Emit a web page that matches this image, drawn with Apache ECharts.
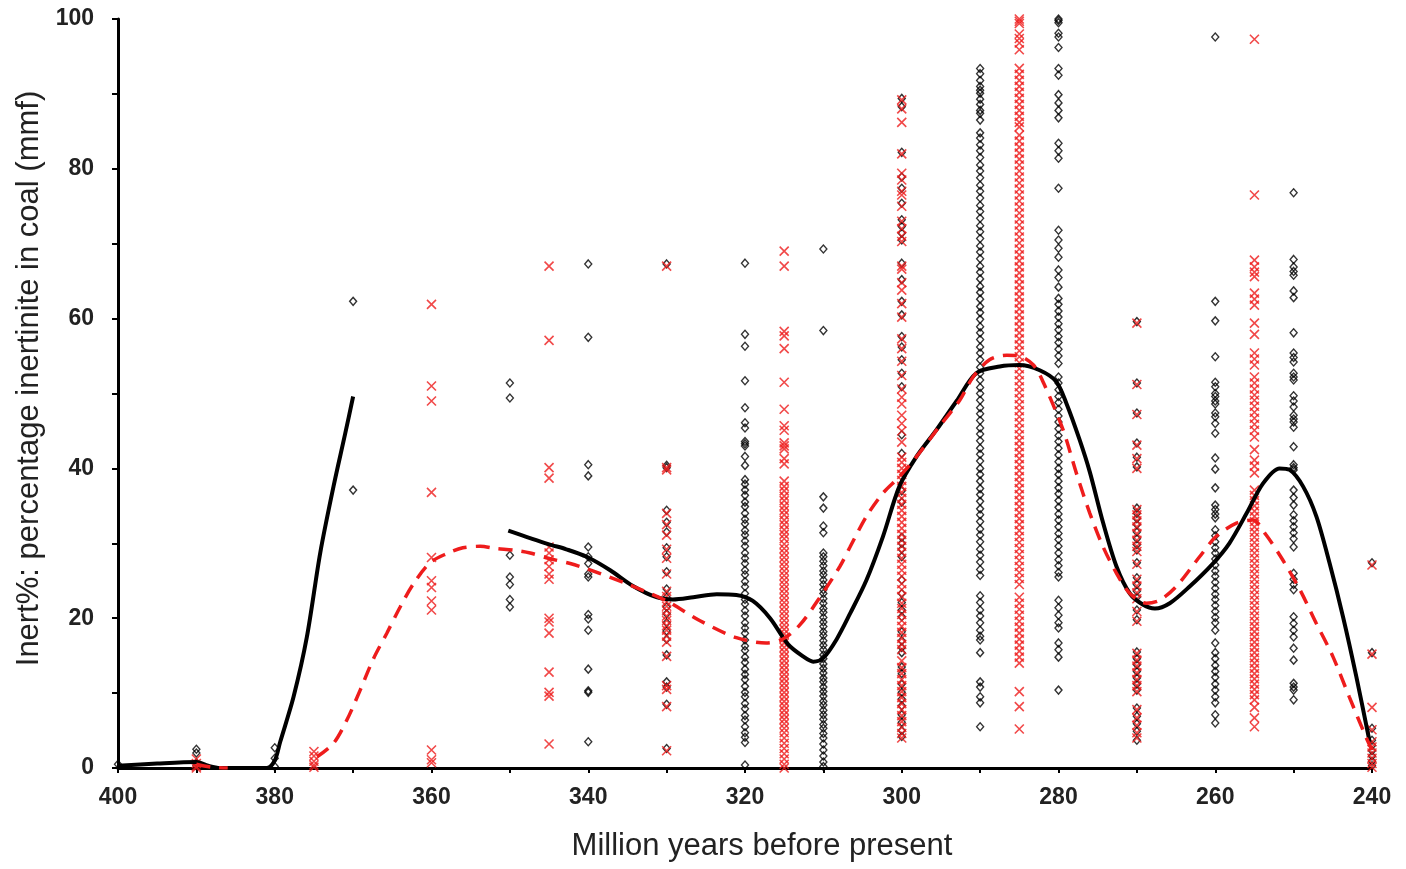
<!DOCTYPE html>
<html>
<head>
<meta charset="utf-8">
<script src="https://cdn.jsdelivr.net/npm/echarts@6/dist/echarts.min.js"></script>
<style>
  html, body { margin: 0; padding: 0; background: #fff; }
  #chart { width: 1406px; height: 869px; }
</style>
</head>
<body>
<div id="chart"></div>
<script>
// black diamonds, one array per age column (Ma)
const blackCols = {
  400: [0.5],
  390: [2.5, 2.0, 0.7, 0.3],
  380: [2.7, 1.3, 0.2],
  370: [62.3, 37.1],
  350: [51.4, 49.4, 28.4, 25.5, 24.5, 22.5, 21.5],
  340: [67.3, 57.5, 40.5, 39.0, 29.5, 28.2, 27.3, 25.9, 25.5, 20.5, 19.9, 18.4, 13.2, 10.3, 10.1, 3.5],
  330: [67.3, 40.4, 40.1, 34.4, 32.8, 31.5, 29.4, 28.2, 26.2, 23.9, 22.8, 21.5, 20.6, 19.4, 18.3, 17.2, 15.1, 11.5, 10.8, 8.5, 2.6],
  320: [67.4, 57.9, 56.3, 51.7, 48.1, 46.1, 45.4, 43.6, 43.3, 43.0, 41.6, 40.4, 38.5, 37.9, 37.1, 36.4, 35.5, 34.9, 34.0, 33.2,
        32.6, 31.7, 31.1, 30.3, 29.6, 28.7, 28.0, 27.3, 26.4, 25.8, 24.9, 24.2, 23.3, 22.5, 21.9, 21.0, 20.3, 19.4, 18.7, 18.0,
        17.1, 16.3, 15.7, 14.8, 14.1, 13.2, 12.5, 11.8, 10.9, 10.1, 9.5, 8.6, 7.9, 7.0, 6.4, 5.5, 4.7, 4.1, 3.4, 0.4],
  310: [69.3, 58.4, 36.2, 34.7, 32.3, 31.4, 28.7, 28.2, 27.6, 27.0, 26.3, 25.8, 25.1, 24.5, 23.8, 23.3, 22.6, 22.0, 21.3,
        20.8, 20.1, 19.5, 18.9, 18.2, 17.7, 17.0, 16.4, 15.8, 15.1, 14.6, 13.9, 13.3, 12.7, 12.0, 11.5, 10.8, 10.2, 9.6, 8.9,
        8.4, 7.7, 7.1, 6.5, 5.8, 5.3, 4.6, 4.0, 3.2, 2.4, 1.6, 0.8, 0.2],
  300: [89.4, 88.3, 82.2, 78.9, 77.4, 75.4, 73.2, 72.3, 71.4, 70.5, 67.4, 65.2, 62.3, 60.5, 57.6, 56.2, 54.5, 52.7, 50.9,
        44.5, 42.0, 37.0, 35.5, 30.8, 30.0, 29.2, 28.2, 25.1, 23.3, 22.1, 21.1, 20.2, 18.2, 17.0, 16.1, 15.4, 13.5, 12.6,
        11.2, 10.1, 9.2, 8.3, 7.1, 6.1, 5.0, 4.2],
  290: [100.3, 93.4, 92.7, 91.8, 91.0, 90.5, 90.1, 89.3, 88.6, 87.8, 87.4, 86.5, 84.8, 84.1, 83.2, 82.4, 81.5, 80.5, 79.7,
        78.8, 77.8, 77.0, 76.1, 75.1, 74.3, 73.4, 72.4, 71.6, 70.7, 69.7, 68.9, 68.0, 67.0, 66.2, 65.3, 64.3, 63.5, 62.6,
        61.6, 60.8, 59.9, 58.9, 58.1, 57.2, 56.2, 55.4, 54.5, 53.5, 52.7, 51.8, 50.8, 50.0, 49.1, 48.1, 47.3, 46.4, 45.4,
        44.6, 43.7, 42.7, 41.9, 41.0, 40.0, 39.2, 38.3, 37.3, 36.5, 35.6, 34.6, 33.8, 32.9, 31.9, 31.1, 30.2, 29.2, 28.4,
        27.5, 26.5, 25.7, 23.0, 22.1, 21.1, 20.3, 19.4, 18.4, 17.6, 17.1, 15.4, 11.5, 10.8, 9.5, 8.7, 5.5],
  280: [100.3, 100.0, 99.8, 99.5, 98.1, 97.6, 96.2, 93.4, 92.5, 89.9, 88.8, 87.8, 86.8, 83.4, 82.4, 81.4, 77.4, 71.8, 70.5,
        69.4, 68.2, 66.5, 65.5, 64.2, 62.7, 61.9, 61.0, 60.2, 59.3, 58.5, 57.6, 56.8, 55.9, 55.0, 54.0, 52.2, 51.4, 50.5,
        49.6, 48.8, 47.9, 47.0, 46.2, 45.3, 44.4, 43.6, 42.7, 41.8, 40.9, 40.0, 39.2, 38.3, 37.4, 36.6, 35.7, 34.8, 33.9,
        33.1, 32.2, 31.3, 30.5, 29.6, 28.7, 27.8, 27.0, 26.1, 25.5, 22.4, 21.4, 20.4, 19.4, 18.7, 16.7, 15.8, 14.8, 10.4],
  270: [59.6, 51.4, 47.4, 43.4, 41.5, 40.2, 34.7, 34.0, 33.3, 32.5, 31.5, 30.6, 29.8, 29.1, 27.4, 25.4, 24.5, 23.6, 22.8,
        21.1, 19.8, 15.5, 14.6, 13.8, 12.9, 12.0, 11.2, 10.4, 8.0, 6.9, 5.9, 4.9, 3.7],
  260: [97.6, 62.3, 59.7, 54.9, 51.5, 50.9, 50.0, 49.6, 49.0, 48.6, 47.4, 46.9, 46.0, 44.7, 41.4, 39.9, 37.4, 35.1, 34.5,
        33.9, 33.4, 31.8, 31.0, 30.2, 29.4, 28.7, 27.9, 27.1, 26.3, 25.6, 24.8, 24.0, 23.2, 22.5, 21.7, 20.9, 20.1, 19.4,
        18.4, 16.7, 15.4, 14.6, 13.7, 12.9, 12.1, 11.2, 10.4, 9.5, 8.7, 7.1, 6.0],
  250: [76.8, 67.9, 66.9, 66.3, 65.8, 63.7, 62.8, 58.1, 55.4, 54.8, 54.2, 52.7, 52.2, 51.8, 49.7, 49.0, 48.2, 47.1, 46.6,
        46.2, 45.5, 42.9, 40.5, 40.1, 39.8, 37.1, 36.1, 35.1, 33.8, 33.0, 32.2, 31.4, 30.6, 29.5, 26.0, 25.2, 24.5, 23.8,
        20.2, 19.3, 18.4, 17.5, 16.0, 14.4, 11.3, 10.8, 10.4, 9.1],
  240: [27.4, 15.4, 5.3, 3.7, 3.0, 2.3, 1.6, 0.9, 0.3]
}

// red crosses, one array per age column (Ma)
const redCols = {
  390: [1.2, 0.6, 0.2, 0],
  375: [2.2, 1.6, 0.9, 0.4, 0.1],
  360: [61.9, 51.0, 49.0, 36.8, 28.1, 25.0, 24.1, 22.3, 21.1, 2.4, 1.1, 0.7],
  345: [67.0, 57.1, 40.1, 38.7, 29.5, 28.7, 27.8, 26.9, 25.9, 25.2, 20.0, 19.5, 18.0, 12.8, 10.1, 9.6, 3.2],
  330: [67.0, 40.1, 39.8, 34.0, 32.5, 31.1, 29.2, 28.0, 25.9, 23.6, 22.9, 22.2, 21.6, 21.0, 20.3, 19.7, 19.0, 18.4, 17.6,
        16.8, 14.9, 11.0, 10.5, 8.2, 2.3],
  315: [69.0, 67.0, 58.3, 57.7, 56.0, 51.5, 47.9, 45.7, 45.1, 43.4, 43.0, 42.6, 41.3, 40.6, 38.3, 37.6, 37.0, 36.3, 35.7,
        35.0, 34.4, 33.8, 33.1, 32.5, 31.8, 31.2, 30.6, 29.9, 29.3, 28.7, 28.1, 27.5, 26.9, 26.3, 25.7, 25.1, 24.5, 23.9,
        23.3, 22.7, 22.1, 21.5, 20.9, 20.3, 19.7, 19.1, 18.5, 17.9, 17.3, 16.7, 16.1, 15.5, 14.9, 14.3, 13.7, 13.1, 12.5,
        11.9, 11.3, 10.7, 10.1, 9.5, 8.9, 8.3, 7.7, 7.1, 6.5, 5.9, 5.3, 4.7, 4.0, 3.3, 2.6, 1.9, 1.2, 0.5, 0],
  300: [89.2, 88.0, 86.2, 82.0, 79.4, 78.5, 77.0, 76.5, 75.0, 73.0, 72.0, 71.0, 70.3, 67.0, 66.6, 64.8, 63.8, 62.0, 60.2,
        57.3, 56.0, 54.3, 52.4, 50.6, 49.5, 48.6, 47.1, 46.0, 45.0, 43.5, 41.5, 40.8, 40.0, 39.2, 38.4, 37.6, 36.8, 36.0,
        35.2, 34.4, 33.6, 32.8, 32.0, 31.2, 30.4, 29.6, 28.8, 28.0, 27.2, 26.4, 25.6, 24.6, 23.8, 22.9, 22.0, 21.3, 20.5,
        19.7, 18.9, 18.1, 17.3, 16.5, 15.8, 14.3, 13.4, 12.6, 11.8, 11.0, 10.2, 9.4, 8.6, 7.8, 7.0, 6.2, 5.4, 4.6, 4.0],
  285: [100.3, 100.0, 99.7, 99.4, 98.0, 97.4, 96.8, 95.9, 93.4, 92.6, 91.8, 91.0, 90.2, 89.4, 88.6, 87.8, 87.0, 86.2, 85.6,
        84.5, 83.7, 82.9, 82.1, 81.3, 80.5, 79.7, 78.9, 78.1, 77.3, 76.5, 75.7, 74.9, 74.1, 73.3, 72.5, 71.7, 70.9, 70.1,
        69.3, 68.5, 67.7, 66.9, 66.1, 65.3, 64.5, 63.7, 62.9, 62.1, 61.3, 60.5, 59.7, 58.9, 58.1, 57.3, 56.5, 55.7, 54.9,
        54.1, 53.3, 52.5, 51.7, 50.9, 50.1, 49.3, 48.5, 47.7, 46.9, 46.1, 45.3, 44.5, 43.7, 42.9, 42.1, 41.3, 40.5, 39.7,
        38.9, 38.1, 37.3, 36.5, 35.7, 34.9, 34.1, 33.3, 32.5, 31.7, 30.9, 30.1, 29.3, 28.5, 27.7, 26.9, 26.1, 25.3, 24.5,
        22.8, 22.0, 21.2, 20.4, 19.6, 18.8, 18.0, 17.2, 16.4, 15.6, 14.8, 14.0, 10.2, 8.2, 5.2],
  270: [59.4, 51.2, 47.2, 43.1, 41.3, 40.0, 34.5, 33.8, 33.0, 32.2, 31.3, 30.4, 29.6, 28.9, 27.2, 25.2, 24.3, 23.4, 22.6,
        20.9, 19.6, 15.3, 14.4, 13.6, 12.7, 11.8, 11.0, 10.2, 7.8, 6.7, 5.7, 4.7, 4.0],
  255: [97.3, 76.5, 67.8, 66.9, 66.2, 65.6, 63.4, 62.6, 61.8, 59.4, 57.9, 55.4, 54.6, 53.8, 52.2, 51.4, 50.6, 49.8, 49.1,
        48.3, 47.5, 46.7, 45.9, 45.1, 44.2, 42.5, 41.1, 40.3, 39.4, 37.1, 36.4, 35.7, 35.0, 34.3, 33.6, 32.9, 32.2, 31.5,
        30.8, 30.1, 29.4, 28.7, 28.0, 27.3, 26.6, 25.9, 25.2, 24.5, 23.8, 23.1, 22.4, 21.7, 21.0, 20.3, 19.6, 18.9, 18.2,
        17.5, 16.8, 16.1, 15.4, 14.7, 14.0, 13.3, 12.6, 11.9, 11.2, 10.5, 9.8, 9.1, 8.1, 6.7, 5.5],
  240: [27.1, 15.2, 8.1, 5.1, 3.5, 2.8, 2.0, 1.3, 0.6, 0.1]
}

// smoothed trend curves: [age, inert%]
const blackAgesA = [400, 395, 390, 388.5, 387, 381, 380, 379.3, 377.6, 375.9, 374.2, 372.5, 371, 370]
const blackValsA = [0.3, 0.6, 0.8, 0.3, 0, 0, 1.0, 3.5, 9.5, 17.5, 28.7, 37.6, 44.7, 49.6]
const blackAgesB = [350.2, 345.1, 342.8, 340.2, 337.2, 334.3, 331.3, 329.2, 326.6, 323.6, 321.1, 319.0, 316.8, 314.5,
                    312.6, 311.3, 310.0, 308.3, 306.6, 304.5, 302.4, 300.3, 298.1, 295.6, 293.0, 290.5, 287.5, 285,
                    282.4, 280.3, 279, 277.3, 276, 274.3, 272.6, 270.9, 269.2, 267.7, 265.8, 263.3, 260.3, 258.2,
                    256.0, 253.9, 251.8, 250.5, 248.8, 247.1, 245.4, 243.7, 242.0, 240.3]
const blackValsB = [31.7, 29.9, 29.2, 28.2, 26.4, 24.3, 22.8, 22.5, 22.8, 23.2, 23.1, 22.3, 20.0, 16.5,
                    14.9, 14.2, 14.7, 17.2, 20.6, 25.1, 30.9, 37.6, 41.6, 45.1, 49.0, 52.7, 53.6, 53.8,
                    53.1, 51.6, 48.7, 43.8, 39.5, 32.7, 26.9, 23.3, 21.8, 21.3, 22.0, 24.2, 27.3, 30.0,
                    34.0, 38.0, 40.0, 39.8, 37.6, 33.6, 27.3, 20.2, 12.2, 3.5]
const redAgesA = [390, 388, 386]
const redValsA = [0.5, 0.1, 0]
const redAgesB = [374.6, 372.5, 370.8, 369.1, 367.4, 365.7, 364.0, 362.3, 360.2, 358.1, 356.0, 353.8, 351.7, 349.6,
                  347.4, 345.1, 342.3, 340.2, 335.1, 330.0, 325.8, 321.1, 317.3, 315.2, 313.0, 310.5, 307.9, 306.6,
                  304.5, 302.4, 300.3, 298.1, 295.2, 292.6, 290.9, 288.8, 286.6, 285, 283.2, 281.9, 279.4, 277.7,
                  276.0, 274.3, 272.6, 270.9, 268.8, 267.1, 265.0, 262.0, 259.9, 257.3, 255.2, 253.5, 251.4, 249.2,
                  247.1, 245.0, 242.9, 240.8, 240]
const redValsB = [1.5, 3.3, 6.4, 10.4, 14.6, 18.0, 21.5, 24.6, 27.4, 28.6, 29.4, 29.6, 29.3, 29.1,
                  28.7, 28.0, 27.3, 26.6, 24.6, 22.3, 19.7, 17.4, 16.7, 17.2, 19.1, 22.7, 26.9, 29.5,
                  33.6, 36.7, 38.9, 41.6, 45.6, 49.1, 52.2, 54.5, 55.1, 55.0, 53.8, 51.4, 45.1, 39.3,
                  34.0, 29.5, 26.0, 23.3, 22.0, 22.4, 24.2, 28.2, 30.9, 32.7, 33.1, 31.1, 27.8, 23.8,
                  19.3, 14.9, 9.5, 4.2, 2.4]

const toPoints = (cols) => Object.keys(cols).flatMap((age) => cols[age].map((v) => [Number(age), v]))
const zip = (xs, ys) => xs.map((x, i) => [x, ys[i]])

const RED = '#ee1c1c'
const TEXT = '#222'
const crossPath = 'path://M0,0L10,10M0,10L10,0'

const chart = echarts.init(document.getElementById('chart'), null, { renderer: 'canvas' })

function lineSeries(data, color, width, dashed) {
  return {
    type: 'line',
    data,
    showSymbol: false,
    smooth: 0.3,
    z: 5,
    silent: true,
    lineStyle: { color, width, type: dashed ? [14, 9] : 'solid' },
  }
}

const tickLabel = {
  fontSize: 23,
  fontWeight: 'bold',
  color: TEXT,
  fontFamily: 'Liberation Sans',
  formatter: (val) => (val % 20 === 0 ? String(val) : ''),
}

chart.setOption({
  animation: false,
  backgroundColor: '#fff',
  grid: { left: 118, right: 34, top: 19, bottom: 101 },
  xAxis: {
    type: 'value',
    min: 240,
    max: 400,
    interval: 10,
    inverse: true,
    name: 'Million years before present',
    nameLocation: 'middle',
    nameGap: 63,
    nameTextStyle: { fontSize: 31, color: TEXT, fontFamily: 'Liberation Sans', padding: [0, 0, 0, 34] },
    axisLine: { show: true, lineStyle: { color: '#000', width: 3 } },
    axisTick: { show: true, length: 5, lineStyle: { color: '#000', width: 2 } },
    axisLabel: { ...tickLabel, margin: 18 },
    splitLine: { show: false },
  },
  yAxis: {
    type: 'value',
    min: 0,
    max: 100,
    interval: 10,
    name: 'Inert%: percentage inertinite in coal (mmf)',
    nameLocation: 'middle',
    nameGap: 72,
    nameTextStyle: { fontSize: 31, color: TEXT, fontFamily: 'Liberation Sans', padding: [0, 0, 0, 30] },
    axisLine: { show: true, lineStyle: { color: '#000', width: 3 } },
    axisTick: { show: true, length: 6, lineStyle: { color: '#000', width: 2 } },
    axisLabel: { ...tickLabel, margin: 24 },
    splitLine: { show: false },
  },
  series: [
    {
      type: 'scatter',
      data: toPoints(blackCols),
      symbol: 'diamond',
      symbolSize: [7, 8],
      z: 2,
      silent: true,
      itemStyle: { color: 'rgba(0,0,0,0)', borderColor: '#000', borderWidth: 1.4 },
    },
    {
      type: 'scatter',
      data: toPoints(redCols),
      symbol: crossPath,
      symbolSize: 9,
      z: 3,
      silent: true,
      itemStyle: { color: 'rgba(0,0,0,0)', borderColor: RED, borderWidth: 1.6 },
    },
    lineSeries(zip(blackAgesA, blackValsA), '#000', 4, false),
    lineSeries(zip(blackAgesB, blackValsB), '#000', 4, false),
    lineSeries(zip(redAgesA, redValsA), RED, 3.5, true),
    lineSeries(zip(redAgesB, redValsB), RED, 3.5, true),
  ],
})
</script>
</body>
</html>
